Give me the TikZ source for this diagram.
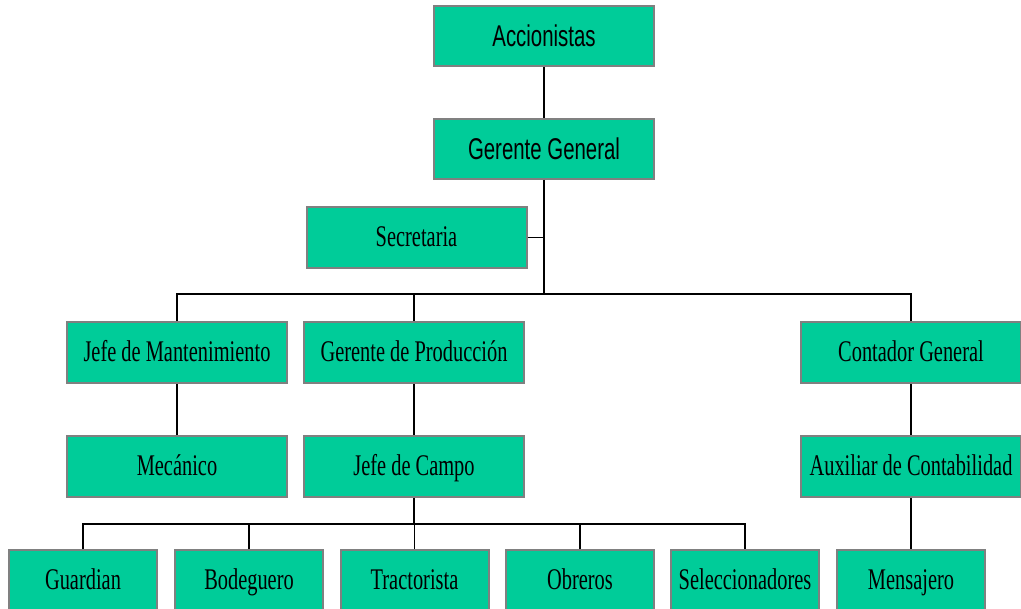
\documentclass[tikz,border=0pt]{standalone}
\usepackage{fontspec}
\usepackage{tikz}
\newfontfamily\orgsans[FakeStretch=0.68]{Liberation Sans}
\newfontfamily\orgserif[FakeStretch=0.68]{Liberation Serif}
\definecolor{verde}{RGB}{0,204,153}
\tikzset{
  cargo/.style={draw=gray,line width=1pt,fill=verde,minimum width=110pt,minimum height=30.5pt,inner sep=0pt,text height=11.5pt,text depth=2.5pt,font=\orgserif\fontsize{15}{18}\selectfont},
  cargosans/.style={cargo,minimum height=30pt,text height=12.5pt,text depth=1.8pt,font=\orgsans\fontsize{15}{18}\selectfont},
  cargochico/.style={cargo,minimum width=74pt},
  linea/.style={line width=0.75pt}
}
\begin{document}
\begin{tikzpicture}[x=0.5pt,y=-0.5pt]
\useasboundingbox (0,0) rectangle (1021,609);
\begin{scope}[shift={(0,0)}]
\coordinate (b1) at (544,294);
\coordinate (b2) at (414,524);
\node[cargosans] (acc) at (544,36) {Accionistas};
\node[cargosans] (gg) at (544,149) {Gerente General};
\node[cargo] (sec) at (416.5,237.5) {Secretaria};
\node[cargo] (jm) at (177,352.5) {Jefe de Mantenimiento};
\node[cargo] (gp) at (414,352.5) {Gerente de Producción};
\node[cargo] (cg) at (911,352.5) {Contador General};
\node[cargo] (mec) at (177,466.5) {Mecánico};
\node[cargo] (jc) at (414,466.5) {Jefe de Campo};
\node[cargo] (aux) at (911,466.5) {Auxiliar de Contabilidad};
\node[cargochico] (guard) at (83,580.5) {Guardian};
\node[cargochico] (bod) at (249,580.5) {Bodeguero};
\node[cargochico] (trac) at (414.5,580.5) {Tractorista};
\node[cargochico] (obr) at (580,580.5) {Obreros};
\node[cargochico] (sel) at (745,580.5) {Seleccionadores};
\node[cargochico] (men) at (911,580.5) {Mensajero};
\draw[linea] (acc) -- (gg);
\draw[linea] (gg.south) -- (b1);
\draw[linea] (sec.east) -- (sec.east -| gg.south);
\draw[linea] (jm.north) -- (jm.north |- b1) -- (cg.north |- b1) -- (cg.north);
\draw[linea] (gp.north) -- (gp.north |- b1);
\draw[linea] (jm) -- (mec);
\draw[linea] (gp) -- (jc);
\draw[linea] (cg) -- (aux);
\draw[linea] (aux.south) -- (men.north);
\draw[linea] (jc.south) -- (b2);
\draw[linea] (guard.north) -- (guard.north |- b2) -- (sel.north |- b2) -- (sel.north);
\foreach \n in {bod,trac,obr}
  \draw[linea] (\n.north) -- (\n.north |- b2);
\end{scope}
\end{tikzpicture}
\end{document}
